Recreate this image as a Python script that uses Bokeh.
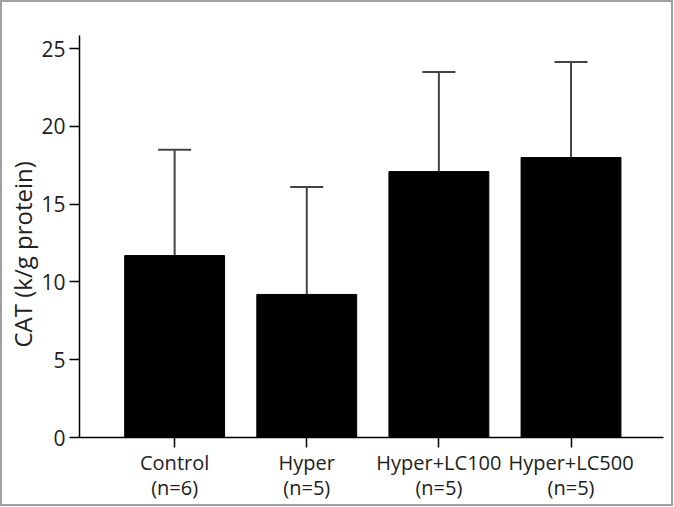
from bokeh.plotting import figure
from bokeh.models import Range1d, FixedTicker, Whisker, ColumnDataSource, TeeHead, Title
from bokeh.embed import file_html
from bokeh.resources import INLINE

groups = ["Control\n(n=6)", "Hyper\n(n=5)", "Hyper+LC100\n(n=5)", "Hyper+LC500\n(n=5)"]
means = [11.7, 9.2, 17.1, 18.0]
sds = [6.8, 6.9, 6.4, 6.15]
y_ticks = [0, 5, 10, 15, 20, 25]
y_title = "CAT (k/g protein)"

xs = list(range(len(groups)))
upper = [m + s for m, s in zip(means, sds)]
src = ColumnDataSource(dict(x=xs, mean=means, upper=upper))

FONT = "Open Sans"
p = figure(width=673, height=506, output_backend="svg", toolbar_location=None,
           x_range=Range1d(-0.72, 3.70), y_range=Range1d(0, 25.85),
           min_border_left=77, min_border_right=12, min_border_top=33, min_border_bottom=71)
p.styles = {"border": "2px solid #a0a0a0"}
p.outline_line_color = None
p.grid.visible = False

p.vbar(x="x", top="mean", bottom=0, width=0.756, source=src,
       fill_color="black", line_color="black")
w = Whisker(base="x", upper="upper", lower="mean", source=src,
            line_color="#444444", line_width=2,
            upper_head=TeeHead(size=33, line_color="#444444", line_width=2),
            lower_head=None)
p.add_layout(w)

for ax in (p.xaxis, p.yaxis):
    ax.axis_line_color = "black"
    ax.axis_line_width = 1.5
    ax.major_tick_line_color = "black"
    ax.major_tick_line_width = 1.5
    ax.major_tick_out = 10
    ax.major_tick_in = 0
    ax.minor_tick_line_color = None
    ax.major_label_text_font = FONT
    ax.major_label_text_font_size = "21px"
    ax.major_label_text_color = "#222222"

p.yaxis.ticker = FixedTicker(ticks=y_ticks)
p.yaxis.major_label_standoff = 4

t = Title(text=y_title, align="left", offset=90, standoff=0,
          text_font=FONT, text_font_size="24px", text_font_style="normal",
          text_color="#222222")
p.add_layout(t, "left")

p.xaxis.ticker = FixedTicker(ticks=xs)
p.xaxis.major_label_overrides = {i: g for i, g in zip(xs, groups)}
p.xaxis.major_label_text_font_size = "20px"
p.xaxis.major_label_standoff = 1
p.xaxis.major_label_text_line_height = 0.95

open("out.html", "w").write(file_html(p, INLINE))
